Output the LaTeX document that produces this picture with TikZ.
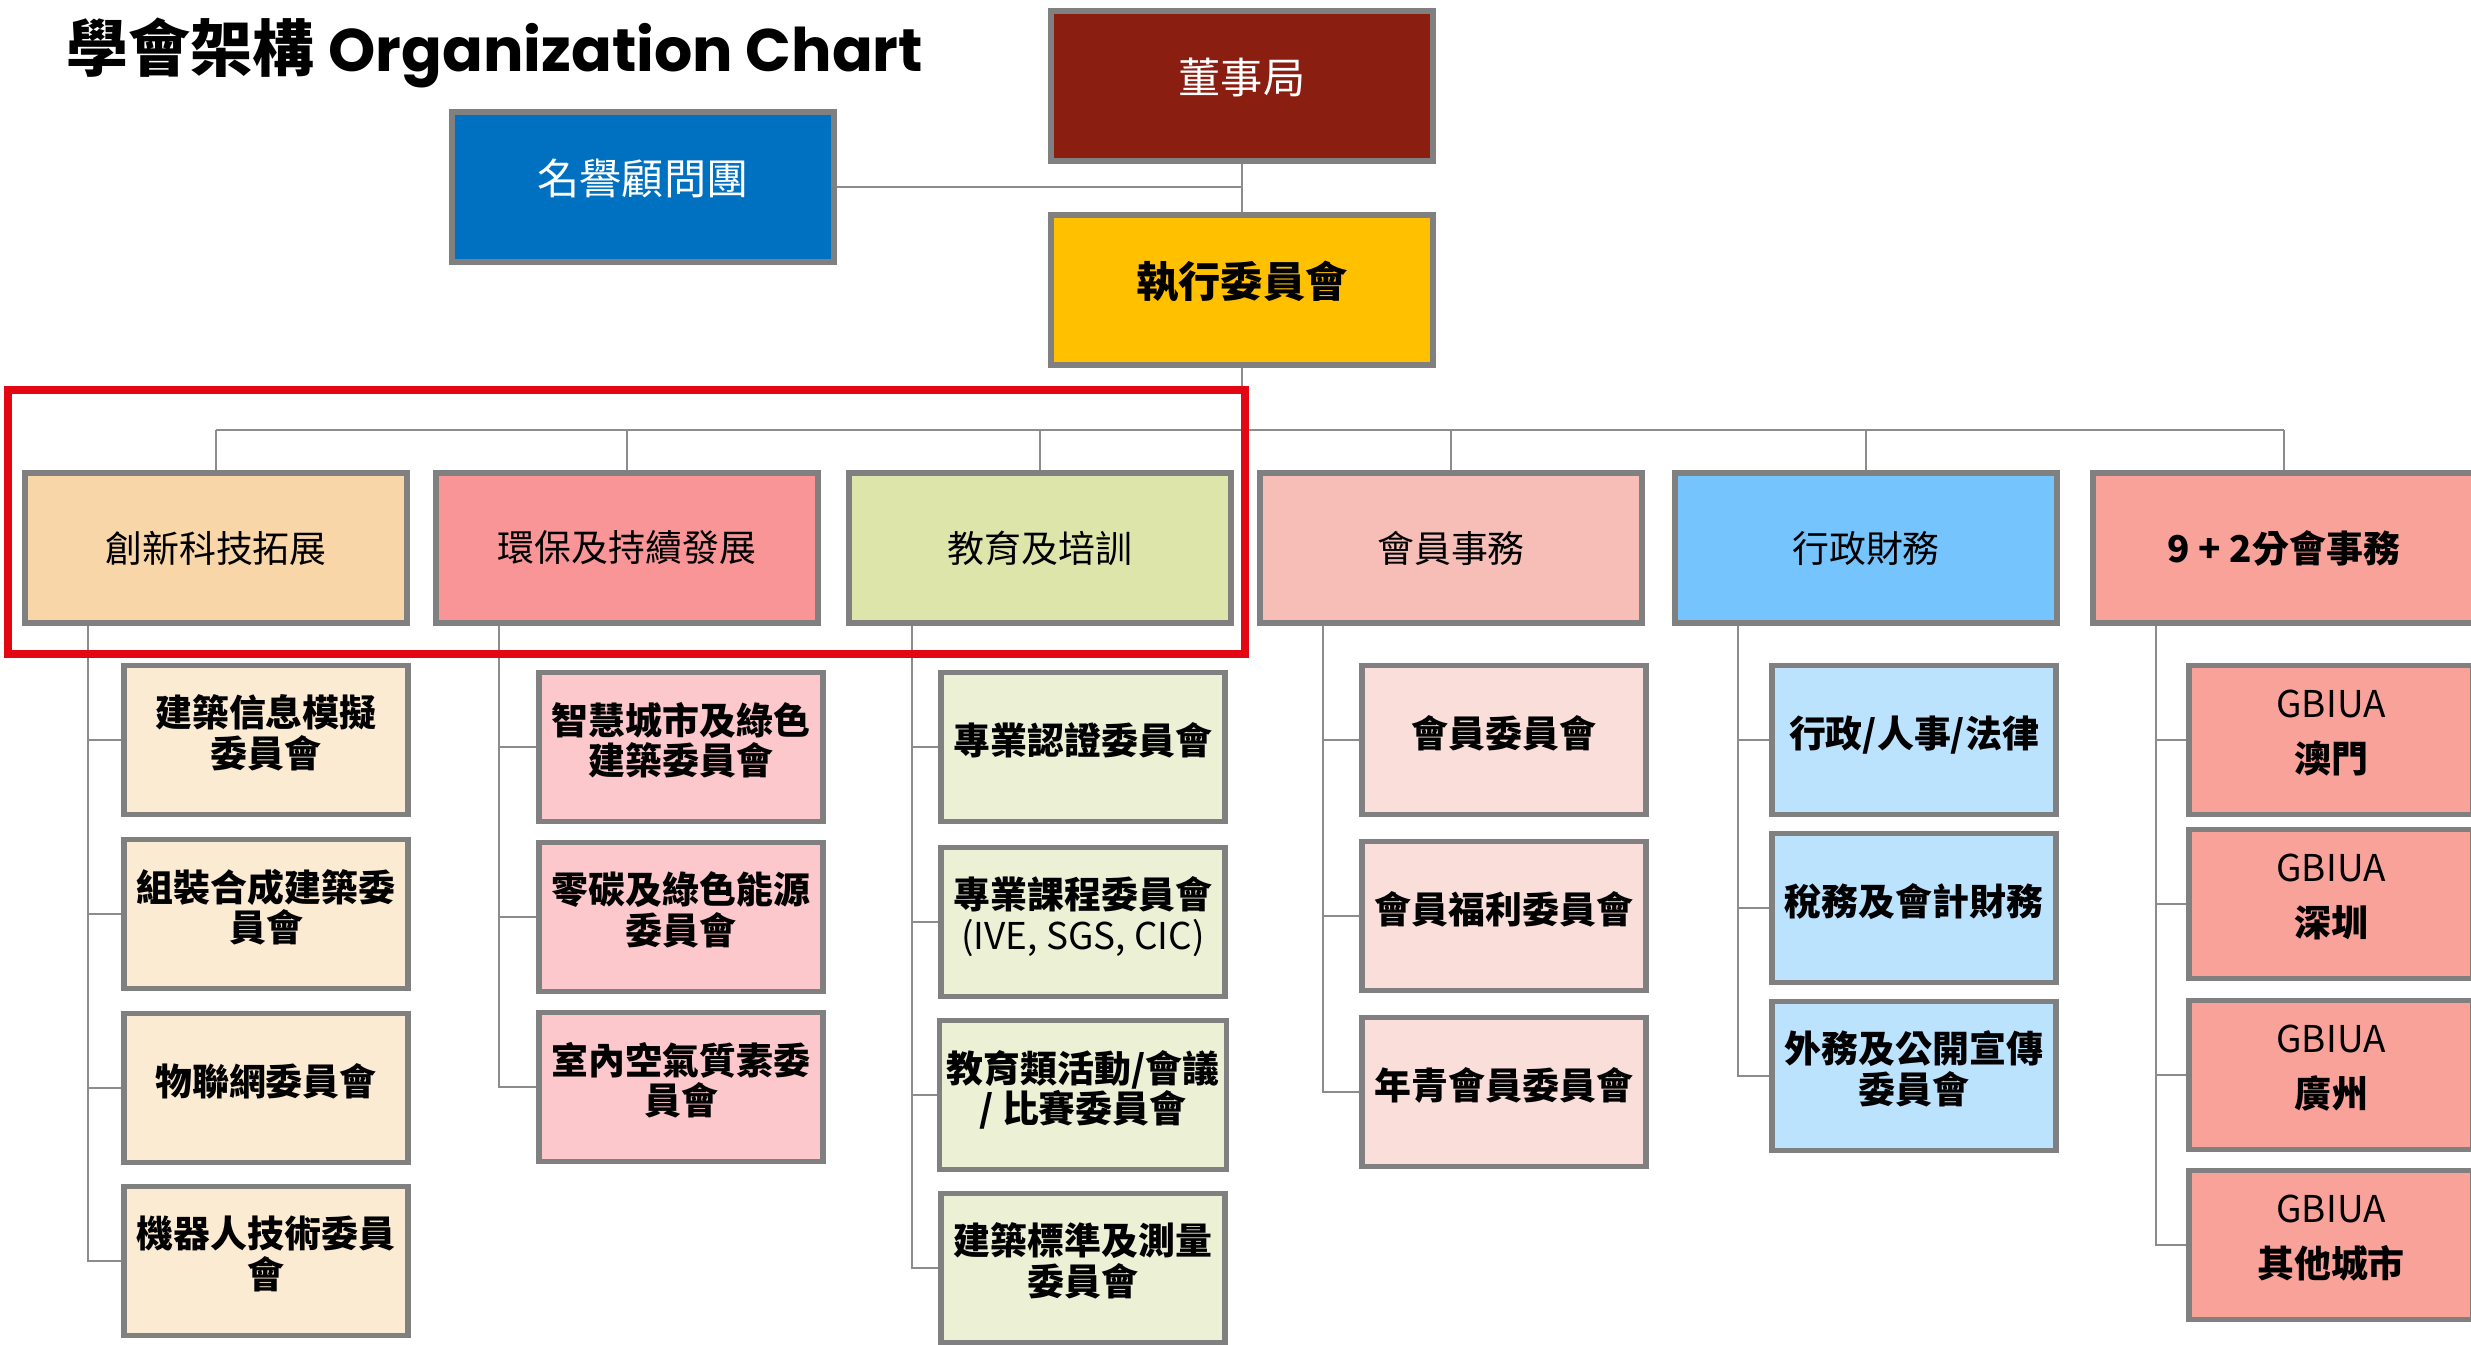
\documentclass[tikz,border=0pt]{standalone}
\usepackage{fontspec}
\setmainfont{Noto Sans CJK TC}
\newfontfamily\titlefont{Poppins}
\usepackage{tikz}

\definecolor{boxgray}{HTML}{808080}
\definecolor{linkgray}{HTML}{8C8C8C}
\definecolor{framered}{HTML}{E30613}
\definecolor{boardred}{HTML}{8A1F11}
\definecolor{honorblue}{HTML}{0070C0}
\definecolor{execgold}{HTML}{FFC000}
\definecolor{innoA}{HTML}{F9D6A7}
\definecolor{innoB}{HTML}{FBEBD3}
\definecolor{envA}{HTML}{F99497}
\definecolor{envB}{HTML}{FCC8CC}
\definecolor{eduA}{HTML}{DDE5AB}
\definecolor{eduB}{HTML}{ECF0D5}
\definecolor{memA}{HTML}{F6BEB6}
\definecolor{memB}{HTML}{F9DEDA}
\definecolor{admA}{HTML}{75C4FD}
\definecolor{admB}{HTML}{BCE3FE}
\definecolor{gbaA}{HTML}{F8A29A}
\definecolor{gbaB}{HTML}{F8A29A}

\begin{document}
\begin{tikzpicture}[x=0.01cm, y=-0.01cm,
    headbox/.style={draw=boxgray, line width=1.6pt, minimum width=3.82cm,
        minimum height=1.5cm, inner sep=2pt, align=center,
        font=\fontsize{10.5}{12}\selectfont},
    chiefbox/.style={headbox, text depth=6pt, font=\fontsize{12}{14}\selectfont},
    subbox/.style={headbox, minimum width=2.84cm, minimum height=1.49cm,
        text depth=5pt, font=\fontsize{10.5}{11.5}\selectfont\bfseries},
    link/.style={draw=linkgray, line width=0.5pt},
    hilite/.style={draw=framered, line width=0.08cm}]
    \useasboundingbox (0,0) rectangle (2471,1344);
    \clip (0,0) rectangle (2471,1344);

    \node (title) at (66,53) [anchor=west, inner sep=0,
        font=\fontsize{17.6}{20}\selectfont\bfseries]
        {學會架構 {\titlefont\fontsize{17.1}{20}\selectfont Organization Chart}};

    % top of the chart
    \node (board) at (1242,86) [chiefbox, fill=boardred, text=white] {董事局};
    \node (honor) at (643,187) [chiefbox, fill=honorblue, text=white] {名譽顧問團};
    \node (exec) at (1242,290) [chiefbox, fill=execgold] {\bfseries 執行委員會};
    \draw[link] (board.south) -- (exec.north);
    \draw[link] (honor.east) -- (honor.east -| board.south);

    % departments
    \foreach \n/\x/\c/\t in {inno/216/innoA/創新科技拓展, env/627/envA/環保及持續發展,
                             edu/1040/eduA/教育及培訓, mem/1451/memA/會員事務,
                             adm/1866/admA/行政財務, gba/2284/gbaA/{\bfseries 9 + 2分會事務}}
        \node (\n) at (\x,548) [headbox, fill=\c] {\t};
    \coordinate (bus) at (1242,430);
    \draw[link] (exec.south) -- (bus);
    \draw[link] (bus -| inno) -- (bus -| gba);
    \foreach \n in {inno, env, edu, mem, adm, gba}
        \draw[link] (bus -| \n) -- (\n.north);

    % committees
    \foreach \p/\n/\x/\y/\c/\t in {
        inno/inno1/266/740/innoB/{建築信息模擬\\委員會},
        inno/inno2/266/914/innoB/{組裝合成建築委\\員會},
        inno/inno3/266/1088/innoB/{物聯網委員會},
        inno/inno4/266/1261/innoB/{機器人技術委員\\會},
        env/env1/681/747/envB/{智慧城市及綠色\\建築委員會},
        env/env2/681/917/envB/{零碳及綠色能源\\委員會},
        env/env3/681/1087/envB/{室內空氣質素委\\員會},
        edu/edu1/1083/747/eduB/{專業認證委員會},
        edu/edu2/1083/922/eduB/{專業課程委員會\\{\mdseries (IVE, SGS, CIC)}},
        edu/edu3/1083/1095/eduB/{教育類活動/會議\\/ 比賽委員會},
        edu/edu4/1083/1268/eduB/{建築標準及測量\\委員會},
        mem/mem1/1504/740/memB/{會員委員會},
        mem/mem2/1504/916/memB/{會員福利委員會},
        mem/mem3/1504/1092/memB/{年青會員委員會},
        adm/adm1/1914/740/admB/{行政/人事/法律},
        adm/adm2/1914/908/admB/{稅務及會計財務},
        adm/adm3/1914/1076/admB/{外務及公開宣傳\\委員會},
        gba/gba1/2331/740/gbaB/{{\mdseries GBIUA}\\[4pt]澳門},
        gba/gba2/2331/904/gbaB/{{\mdseries GBIUA}\\[4pt]深圳},
        gba/gba3/2331/1075/gbaB/{{\mdseries GBIUA}\\[4pt]廣州},
        gba/gba4/2331/1245/gbaB/{{\mdseries GBIUA}\\[4pt]其他城市}} {
        \node (\n) at (\x,\y) [subbox, fill=\c] {\t};
        \draw[link] ([xshift=0.66cm]\p.south west) |- (\n.west);
    }

    % highlighted group
    \draw[hilite] (8,390) rectangle (1245,654);
\end{tikzpicture}
\end{document}
